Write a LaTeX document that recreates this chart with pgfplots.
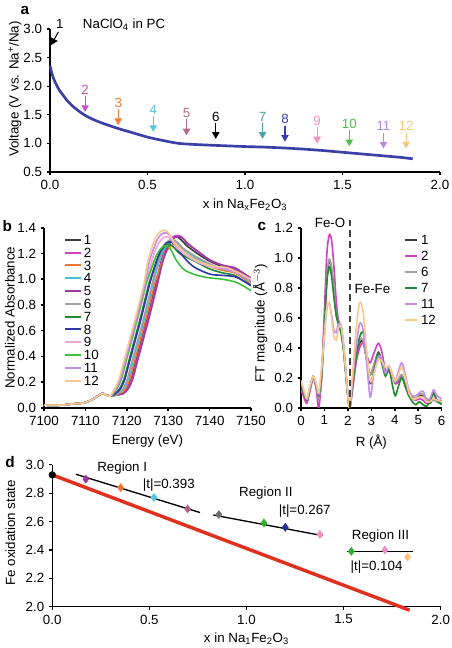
\documentclass[border=0pt]{standalone}
\usepackage{fontspec}
\setmainfont{Liberation Sans}
\usepackage{pgfplots}
\pgfplotsset{compat=1.18}
\usetikzlibrary{arrows.meta}
\definecolor{vblue}{HTML}{3B3FA8}
\definecolor{a2}{HTML}{C94FC1}
\definecolor{a3}{HTML}{F47A3A}
\definecolor{a4}{HTML}{5BC5DC}
\definecolor{a5}{HTML}{B5688A}
\definecolor{a7}{HTML}{4AA0A4}
\definecolor{a8}{HTML}{3A3FB0}
\definecolor{a9}{HTML}{F48FC0}
\definecolor{a10}{HTML}{4CC04C}
\definecolor{a11}{HTML}{B889E0}
\definecolor{a12}{HTML}{F8C878}
\definecolor{b1}{HTML}{3A3A3A}
\definecolor{b2}{HTML}{D040C0}
\definecolor{b3}{HTML}{F37430}
\definecolor{b4}{HTML}{3FC6D6}
\definecolor{b5}{HTML}{A03CA0}
\definecolor{b6}{HTML}{A0A0A0}
\definecolor{b7}{HTML}{208A30}
\definecolor{b8}{HTML}{2E3A9E}
\definecolor{b9}{HTML}{F3A6DA}
\definecolor{b10}{HTML}{3CC03C}
\definecolor{b11}{HTML}{C48EE8}
\definecolor{b12}{HTML}{F9C88E}
\definecolor{d2}{HTML}{A030A0}
\definecolor{d5}{HTML}{B06080}
\definecolor{d6}{HTML}{707070}
\definecolor{d7}{HTML}{30B030}
\definecolor{d8}{HTML}{2030A0}
\definecolor{d9}{HTML}{F090C0}
\definecolor{d11}{HTML}{E890C8}
\definecolor{d12}{HTML}{F8C080}
\definecolor{dred}{HTML}{E0301E}
\newcommand{\fs}{\fontsize{10}{12}\selectfont}
\pgfplotsset{
  base/.style={
    scale only axis, anchor=south west,
    axis x line=bottom, axis y line=left,
    axis line style={-, line width=0.8pt},
    tick align=outside, major tick length=2.5pt,
    tick style={black, line width=0.8pt},
    /pgf/number format/assume math mode=true,
    label style={font=\fs}, tick label style={font=\fs},
    enlargelimits=false,
  },
  ylab/.style 2 args={every axis y label/.append style={at={(axis description cs:#1,#2)}, anchor=center}},
  onedec/.style={/pgf/number format/.cd, fixed, fixed zerofill, precision=1},
}
\begin{document}
\begin{tikzpicture}[font=\fs]
\useasboundingbox (0pt,0pt) rectangle (339pt,-486pt);
\node[font=\fontsize{11.5}{12}\selectfont\bfseries] at (18.75pt,-7.5pt) {a};
\node[font=\fontsize{11.5}{12}\selectfont\bfseries] at (5.5pt,-169.5pt) {b};
\node[font=\fontsize{11.5}{12}\selectfont\bfseries] at (196.5pt,-169.5pt) {c};
\node[font=\fontsize{11.5}{12}\selectfont\bfseries] at (7.5pt,-346.5pt) {d};

% ---------------- panel a
\begin{axis}[base, at={(37.5pt,-129pt)}, width=292.5pt, height=107.25pt,
  xmin=0, xmax=2, ymin=0.5, ymax=3,
  xtick={0,0.5,1,1.5,2}, ytick={0.5,1,1.5,2,2.5,3},
  xticklabel style={onedec}, yticklabel style={onedec},
  xlabel={x in Na\textsubscript{x}Fe\textsubscript{2}O\textsubscript{3}},
  ylabel={Voltage (V vs. Na\textsuperscript{+}/Na)}, ylab={-0.09}{0.58},
  clip=false]
\addplot[vblue, line width=2pt, smooth] coordinates {
(0,2.36)(0.01,2.22)(0.02,2.12)(0.035,2.01)(0.05,1.92)(0.07,1.83)(0.09,1.74)
(0.12,1.64)(0.15,1.56)(0.18,1.49)(0.22,1.42)(0.28,1.34)(0.35,1.26)(0.42,1.19)
(0.5,1.11)(0.58,1.05)(0.66,1.00)(0.75,0.98)(0.85,0.965)(1.0,0.945)(1.1,0.935)
(1.2,0.92)(1.3,0.90)(1.4,0.875)(1.5,0.845)(1.6,0.815)(1.7,0.785)(1.8,0.755)(1.86,0.73)};
\node at (axis cs:0.05,3.09) {1};
\draw[black, line width=0.8pt, -{Triangle[width=5.5pt,length=5pt]}] (axis cs:0.043,2.95) -- (axis cs:0.006,2.72);
\node[anchor=west] at (axis cs:0.145,3.07) {NaClO\textsubscript{4} in PC};
\foreach \xx/\tt/\nn/\cc in {0.18/1.55/2/a2, 0.35/1.32/3/a3, 0.53/1.20/4/a4, 0.70/1.14/5/a5, 0.85/1.08/6/black, 1.09/1.08/7/a7, 1.205/1.03/8/a8, 1.37/1.00/9/a9, 1.535/0.95/10/a10, 1.71/0.91/11/a11, 1.826/0.91/12/a12}{
  \edef\temp{\noexpand\draw[\cc, line width=0.8pt, -{Triangle[width=5.5pt,length=5pt]}] (axis cs:\xx,\tt+0.28) -- (axis cs:\xx,\tt);
  \noexpand\node[text=\cc] at (axis cs:\xx,\tt+0.39) {\nn};}
  \temp
}
\end{axis}

% ---------------- panel b
\begin{axis}[base, at={(33pt,-305.8pt)}, width=155.25pt, height=135pt,
  axis line style={-, line width=1.5pt}, tick style={black, line width=1.2pt},
  xmin=7100, xmax=7150, ymin=0, ymax=1.4,
  xtick={7100,7110,7120,7130,7140,7150}, ytick={0,0.2,0.4,0.6,0.8,1.0,1.2,1.4},
  xticklabel style={/pgf/number format/.cd, 1000 sep={}}, yticklabel style={onedec},
  xlabel={Energy (eV)}, ylabel={Normalized Absorbance}, ylab={-0.165}{0.5},
  clip mode=individual,
  legend style={draw=none, fill=none, at={(0.077,0.985)}, anchor=north west,
    font=\fs, nodes={inner sep=1.3pt, text height=7pt, text depth=0pt}},
  legend cell align=left,
  legend image code/.code={\draw[#1, line width=1.5pt] (0pt,0pt) -- (12pt,0pt);},
  every axis plot/.append style={line width=1.2pt, smooth}]
\addplot[b1] coordinates {(7100,0.02)(7104,0.02)(7107,0.03)(7110,0.04)(7112,0.07)(7114,0.11)(7115,0.10)(7116,0.09)(7117.5,0.10)(7119,0.11)
(7120,0.15)(7121,0.22)(7122,0.34)(7123,0.46)(7124,0.58)(7125,0.70)(7126,0.83)(7127,0.96)(7128,1.10)(7129,1.21)(7130,1.28)(7131,1.32)(7132,1.33)(7133,1.31)(7134.5,1.26)
(7137,1.20)(7140,1.14)(7143,1.10)(7146,1.07)(7148,1.03)(7150,0.98)};
\addlegendentry{1}
\addplot[b2] coordinates {(7100,0.02)(7104,0.02)(7107,0.03)(7110,0.04)(7112,0.07)(7114,0.11)(7115,0.10)(7116,0.09)(7117.5,0.10)(7119,0.11)
(7120.2,0.15)(7121.2,0.22)(7122.2,0.34)(7123.2,0.46)(7124.2,0.58)(7125.2,0.70)(7126.2,0.83)(7127.2,0.96)(7128.2,1.11)(7129.2,1.22)(7130.2,1.29)(7131.2,1.33)(7132.2,1.34)(7133.2,1.33)(7134.7,1.28)
(7137,1.22)(7140,1.15)(7143,1.11)(7146,1.08)(7148,1.05)(7150,1.00)};
\addlegendentry{2}
\addplot[b3] coordinates {(7100,0.02)(7104,0.02)(7107,0.03)(7110,0.04)(7112,0.07)(7114,0.11)(7115,0.10)(7116,0.09)(7117.5,0.10)(7118.7,0.11)
(7119.7,0.15)(7120.7,0.22)(7121.7,0.34)(7122.7,0.46)(7123.7,0.58)(7124.7,0.70)(7125.7,0.83)(7126.7,0.96)(7127.7,1.06)(7128.7,1.15)(7129.7,1.22)(7130.7,1.26)(7131.7,1.27)(7132.7,1.25)(7134.2,1.20)
(7137,1.15)(7140,1.10)(7143,1.07)(7146,1.05)(7148,1.01)(7150,0.96)};
\addlegendentry{3}
\addplot[b4] coordinates {(7100,0.02)(7104,0.02)(7107,0.03)(7110,0.04)(7112,0.07)(7114,0.11)(7115,0.10)(7116,0.09)(7117.5,0.10)
(7119.3,0.15)(7120.3,0.22)(7121.3,0.34)(7122.3,0.46)(7123.3,0.58)(7124.3,0.70)(7125.3,0.83)(7126.3,0.96)(7127.3,1.08)(7128.3,1.18)(7129.3,1.25)(7130.3,1.29)(7131.3,1.30)(7132.3,1.28)(7133.8,1.23)
(7137,1.16)(7140,1.11)(7143,1.08)(7146,1.06)(7148,1.02)(7150,0.97)};
\addlegendentry{4}
\addplot[b5] coordinates {(7100,0.02)(7104,0.02)(7107,0.03)(7110,0.04)(7112,0.07)(7114,0.11)(7115,0.10)(7116,0.09)(7117.5,0.10)(7119.2,0.11)
(7120.4,0.15)(7121.4,0.22)(7122.4,0.34)(7123.4,0.46)(7124.4,0.58)(7125.4,0.70)(7126.4,0.83)(7127.4,0.96)(7128.4,1.10)(7129.4,1.21)(7130.4,1.28)(7131.4,1.32)(7132.4,1.33)(7133.4,1.32)(7134.9,1.27)
(7137,1.22)(7140,1.15)(7143,1.11)(7146,1.09)(7148,1.05)(7150,1.01)};
\addlegendentry{5}
\addplot[b6] coordinates {(7100,0.02)(7104,0.02)(7107,0.03)(7110,0.04)(7112,0.07)(7114,0.11)(7115,0.10)(7116,0.09)(7117.5,0.10)
(7119.1,0.15)(7120.1,0.22)(7121.1,0.34)(7122.1,0.46)(7123.1,0.58)(7124.1,0.70)(7125.1,0.83)(7126.1,0.96)(7127.1,1.09)(7128.1,1.19)(7129.1,1.26)(7130.1,1.30)(7131.1,1.31)(7132.1,1.29)(7133.6,1.24)
(7137,1.17)(7140,1.12)(7143,1.08)(7146,1.06)(7148,1.02)(7150,0.97)};
\addlegendentry{6}
\addplot[b7] coordinates {(7100,0.02)(7104,0.02)(7107,0.03)(7110,0.04)(7112,0.07)(7114,0.11)(7115,0.10)(7116,0.09)(7117.2,0.11)
(7118.3,0.15)(7119.3,0.22)(7120.3,0.34)(7121.3,0.46)(7122.3,0.58)(7123.3,0.70)(7124.3,0.83)(7125.3,0.96)(7126.3,1.06)(7127.3,1.15)(7128.3,1.22)(7129.3,1.26)(7130.3,1.27)(7131.3,1.25)(7132.8,1.20)
(7137,1.13)(7140,1.08)(7143,1.05)(7146,1.03)(7148,0.99)(7150,0.95)};
\addlegendentry{7}
\addplot[b8] coordinates {(7100,0.02)(7104,0.02)(7107,0.03)(7110,0.04)(7112,0.07)(7114,0.11)(7115,0.10)(7116,0.09)(7117.3,0.11)
(7118.5,0.15)(7119.5,0.22)(7120.5,0.34)(7121.5,0.46)(7122.5,0.58)(7123.5,0.70)(7124.5,0.83)(7125.5,0.96)(7126.5,1.07)(7127.5,1.17)(7128.5,1.24)(7129.5,1.28)(7130.5,1.29)(7131.5,1.27)(7133,1.20)
(7136,1.10)(7140,1.04)(7143,1.03)(7146,1.02)(7148,0.99)(7150,0.95)};
\addlegendentry{8}
\addplot[b9] coordinates {(7100,0.02)(7104,0.02)(7107,0.03)(7110,0.04)(7112,0.07)(7114,0.11)(7115,0.10)(7116,0.09)
(7117.7,0.15)(7118.7,0.22)(7119.7,0.34)(7120.7,0.46)(7121.7,0.58)(7122.7,0.70)(7123.7,0.83)(7124.7,0.96)(7125.7,1.10)(7126.7,1.21)(7127.7,1.28)(7128.7,1.32)(7129.7,1.33)(7130.7,1.31)(7132.2,1.24)
(7135,1.17)(7138,1.12)(7141,1.09)(7144,1.08)(7147,1.04)(7150,0.99)};
\addlegendentry{9}
\addplot[b10] coordinates {(7100,0.02)(7104,0.02)(7107,0.03)(7110,0.04)(7112,0.07)(7114,0.11)(7115,0.10)(7116,0.09)
(7117.6,0.15)(7118.6,0.22)(7119.6,0.34)(7120.6,0.46)(7121.6,0.58)(7122.6,0.70)(7123.6,0.83)(7124.6,0.96)(7125.6,1.05)(7126.6,1.14)(7127.6,1.21)(7128.6,1.25)(7129.6,1.26)(7130.6,1.23)(7132.1,1.14)
(7134,1.07)(7137,1.03)(7140,1.01)(7143,1.00)(7146,0.98)(7148,0.95)(7150,0.91)};
\addlegendentry{10}
\addplot[b11] coordinates {(7100,0.02)(7104,0.02)(7107,0.03)(7110,0.04)(7112,0.07)(7114,0.11)(7115,0.10)(7116,0.09)
(7117.4,0.15)(7118.4,0.22)(7119.4,0.34)(7120.4,0.46)(7121.4,0.58)(7122.4,0.70)(7123.4,0.83)(7124.4,0.96)(7125.4,1.13)(7126.4,1.23)(7127.4,1.31)(7128.4,1.35)(7129.4,1.36)(7130.4,1.34)(7131.9,1.27)
(7135,1.18)(7138,1.13)(7141,1.10)(7144,1.08)(7147,1.04)(7150,0.99)};
\addlegendentry{11}
\addplot[b12] coordinates {(7100,0.02)(7104,0.02)(7107,0.03)(7110,0.04)(7112,0.07)(7114,0.11)(7115,0.10)(7116,0.09)
(7117.1,0.15)(7118.1,0.22)(7119.1,0.34)(7120.1,0.46)(7121.1,0.58)(7122.1,0.70)(7123.1,0.83)(7124.1,0.96)(7125.1,1.14)(7126.1,1.25)(7127.1,1.33)(7128.1,1.37)(7129.1,1.38)(7130.1,1.36)(7131.6,1.28)
(7135,1.18)(7138,1.13)(7141,1.10)(7144,1.09)(7147,1.05)(7150,1.00)};
\addlegendentry{12}
\end{axis}

% ---------------- panel c
\begin{axis}[base, at={(225.75pt,-305.8pt)}, width=105.5pt, height=135pt,
  axis line style={-, line width=1.5pt}, tick style={black, line width=1.2pt},
  xmin=0, xmax=6, ymin=0, ymax=1.2,
  xtick={0,1,2,3,4,5,6}, ytick={0,0.2,0.4,0.6,0.8,1.0,1.2},
  yticklabel style={onedec},
  xlabel={R (Å)}, ylabel={FT magnitude (Å$^{-3}$)}, ylab={-0.29}{0.47},
  clip mode=individual,
  legend style={draw=none, fill=none, at={(0.70,0.991)}, anchor=north west,
    font=\fs, nodes={inner sep=2.5pt, text height=7pt, text depth=0pt}},
  legend cell align=left,
  legend image code/.code={\draw[#1, line width=1.5pt] (0pt,0pt) -- (9pt,0pt);},
  every axis plot/.append style={line width=1.2pt, smooth}]
\addplot[b1] coordinates {(0,0.16)(0.12,0.10)(0.25,0.05)(0.38,0.12)(0.52,0.20)(0.65,0.15)(0.76,0.06)(0.88,0.20)(1.0,0.55)(1.1,0.85)(1.2,0.98)(1.3,0.93)(1.4,0.78)(1.5,0.62)(1.6,0.56)(1.7,0.52)(1.8,0.42)(1.9,0.25)(2.0,0.08)(2.08,0.0)(2.2,0.15)(2.35,0.33)(2.5,0.43)(2.65,0.44)(2.8,0.32)(2.95,0.22)(3.1,0.28)(3.3,0.37)(3.45,0.30)(3.6,0.22)(3.75,0.26)(3.9,0.22)(4.02,0.17)(4.15,0.18)(4.3,0.21)(4.45,0.15)(4.6,0.09)(4.75,0.07)(4.9,0.06)(5.05,0.08)(5.2,0.08)(5.35,0.04)(5.5,0.03)(5.65,0.06)(5.8,0.04)(6.0,0.03)};
\addlegendentry{1}
\addplot[b2] coordinates {(0,0.12)(0.12,0.07)(0.25,0.03)(0.38,0.11)(0.52,0.20)(0.65,0.12)(0.76,0.0)(0.88,0.22)(1.0,0.65)(1.1,1.02)(1.2,1.15)(1.3,1.12)(1.4,0.95)(1.5,0.72)(1.6,0.58)(1.7,0.55)(1.8,0.44)(1.9,0.26)(2.0,0.08)(2.08,0.0)(2.2,0.12)(2.35,0.30)(2.5,0.40)(2.65,0.43)(2.8,0.35)(2.95,0.30)(3.1,0.36)(3.3,0.43)(3.45,0.37)(3.6,0.25)(3.75,0.24)(3.9,0.21)(4.02,0.16)(4.15,0.17)(4.3,0.22)(4.45,0.15)(4.6,0.08)(4.75,0.06)(4.9,0.05)(5.05,0.06)(5.2,0.05)(5.35,0.03)(5.5,0.05)(5.65,0.09)(5.8,0.05)(6.0,0.05)};
\addlegendentry{2}
\addplot[b6] coordinates {(0,0.17)(0.12,0.10)(0.25,0.05)(0.38,0.13)(0.52,0.21)(0.65,0.14)(0.76,0.06)(0.88,0.22)(1.0,0.57)(1.1,0.87)(1.2,0.99)(1.3,0.94)(1.4,0.79)(1.5,0.63)(1.6,0.57)(1.7,0.53)(1.8,0.42)(1.9,0.25)(2.0,0.08)(2.08,0.0)(2.2,0.16)(2.35,0.34)(2.5,0.45)(2.65,0.45)(2.8,0.33)(2.95,0.22)(3.1,0.28)(3.3,0.36)(3.45,0.30)(3.6,0.23)(3.75,0.27)(3.9,0.22)(4.02,0.17)(4.15,0.19)(4.3,0.22)(4.45,0.14)(4.6,0.10)(4.75,0.08)(4.9,0.06)(5.05,0.09)(5.2,0.09)(5.35,0.05)(5.5,0.04)(5.65,0.05)(5.8,0.04)(6.0,0.03)};
\addlegendentry{6}
\addplot[b7] coordinates {(0,0.17)(0.12,0.10)(0.25,0.05)(0.38,0.13)(0.52,0.21)(0.65,0.15)(0.76,0.08)(0.88,0.22)(1.0,0.55)(1.1,0.83)(1.2,0.94)(1.3,0.88)(1.4,0.74)(1.5,0.62)(1.6,0.56)(1.7,0.50)(1.8,0.40)(1.9,0.24)(2.0,0.07)(2.08,0.0)(2.2,0.15)(2.35,0.33)(2.5,0.47)(2.65,0.50)(2.8,0.35)(2.95,0.16)(3.1,0.24)(3.3,0.36)(3.45,0.30)(3.6,0.21)(3.75,0.26)(3.9,0.15)(4.02,0.08)(4.15,0.14)(4.3,0.20)(4.45,0.14)(4.6,0.08)(4.75,0.04)(4.9,0.02)(5.05,0.04)(5.2,0.02)(5.35,0.01)(5.5,0.04)(5.65,0.10)(5.8,0.05)(6.0,0.02)};
\addlegendentry{7}
\addplot[b11] coordinates {(0,0.18)(0.12,0.11)(0.25,0.06)(0.38,0.14)(0.52,0.21)(0.65,0.15)(0.76,0.09)(0.88,0.26)(1.0,0.48)(1.1,0.66)(1.2,0.70)(1.3,0.62)(1.4,0.52)(1.5,0.50)(1.6,0.56)(1.7,0.55)(1.8,0.44)(1.9,0.26)(2.0,0.08)(2.08,0.0)(2.2,0.18)(2.35,0.40)(2.5,0.56)(2.65,0.52)(2.8,0.30)(2.95,0.07)(3.1,0.22)(3.3,0.34)(3.45,0.32)(3.6,0.23)(3.75,0.28)(3.9,0.21)(4.02,0.18)(4.15,0.24)(4.3,0.30)(4.45,0.22)(4.6,0.12)(4.75,0.08)(4.9,0.08)(5.05,0.10)(5.2,0.11)(5.35,0.06)(5.5,0.06)(5.65,0.12)(5.8,0.08)(6.0,0.06)};
\addlegendentry{11}
\addplot[b12] coordinates {(0,0.18)(0.12,0.12)(0.25,0.06)(0.38,0.14)(0.52,0.21)(0.65,0.16)(0.76,0.10)(0.88,0.27)(1.0,0.50)(1.1,0.67)(1.2,0.70)(1.3,0.60)(1.4,0.48)(1.5,0.45)(1.6,0.53)(1.7,0.55)(1.8,0.44)(1.9,0.26)(2.0,0.08)(2.08,0.0)(2.2,0.22)(2.35,0.52)(2.5,0.70)(2.65,0.64)(2.8,0.38)(2.95,0.18)(3.1,0.22)(3.3,0.32)(3.45,0.31)(3.6,0.27)(3.75,0.28)(3.9,0.22)(4.02,0.18)(4.15,0.22)(4.3,0.27)(4.45,0.20)(4.6,0.10)(4.75,0.06)(4.9,0.06)(5.05,0.07)(5.2,0.07)(5.35,0.04)(5.5,0.04)(5.65,0.06)(5.8,0.05)(6.0,0.04)};
\addlegendentry{12}
\draw[black!75, line width=1.5pt, dash pattern=on 5pt off 3pt] (axis cs:2.1,0) -- (axis cs:2.1,1.25);
\node at (axis cs:1.24,1.235) {Fe-O};
\node at (axis cs:3.05,0.79) {Fe-Fe};
\end{axis}

% ---------------- panel d
\begin{axis}[base, at={(39.2pt,-455pt)}, width=291.3pt, height=106.3pt,
  xmin=0, xmax=2, ymin=2, ymax=3,
  xtick={0,0.5,1,1.5,2}, ytick={2,2.2,2.4,2.6,2.8,3},
  xticklabel style={onedec}, yticklabel style={onedec},
  xlabel={x in Na\textsubscript{1}Fe\textsubscript{2}O\textsubscript{3}},
  ylabel={Fe oxidation state}, ylab={-0.108}{0.52},
  clip=false]
\addplot[dred, line width=2.6pt] coordinates {(0,2.93)(1.84,1.975)};
\addplot[black, line width=1pt] coordinates {(0.122,2.934)(0.761,2.664)};
\addplot[black, line width=1pt] coordinates {(0.829,2.647)(1.392,2.501)};
\addplot[black, line width=1pt] coordinates {(1.516,2.388)(1.859,2.388)};
\addplot[only marks, mark=*, mark size=2.5pt, black] coordinates {(0,2.93)};
\addplot[only marks, mark=diamond*, mark size=3pt, d2] coordinates {(0.173,2.90)};
\addplot[only marks, mark=diamond*, mark size=3pt, a3] coordinates {(0.352,2.84)};
\addplot[only marks, mark=diamond*, mark size=3pt, a4] coordinates {(0.524,2.77)};
\addplot[only marks, mark=diamond*, mark size=3pt, d5] coordinates {(0.697,2.69)};
\addplot[only marks, mark=diamond*, mark size=3pt, d6] coordinates {(0.858,2.65)};
\addplot[only marks, mark=diamond*, mark size=3pt, d7] coordinates {(1.09,2.59)};
\addplot[only marks, mark=diamond*, mark size=3pt, d8] coordinates {(1.20,2.56)};
\addplot[only marks, mark=diamond*, mark size=3pt, d9] coordinates {(1.378,2.51)};
\addplot[only marks, mark=diamond*, mark size=3pt, d7] coordinates {(1.54,2.39)};
\addplot[only marks, mark=diamond*, mark size=3pt, d11] coordinates {(1.713,2.40)};
\addplot[only marks, mark=diamond*, mark size=3pt, d12] coordinates {(1.83,2.35)};
\node at (axis cs:0.36,2.98) {Region I};
\node at (axis cs:0.60,2.86) {|t|=0.393};
\node at (axis cs:1.10,2.80) {Region II};
\node at (axis cs:1.30,2.675) {|t|=0.267};
\node at (axis cs:1.69,2.50) {Region III};
\node at (axis cs:1.67,2.28) {|t|=0.104};
\end{axis}
\end{tikzpicture}
\end{document}
